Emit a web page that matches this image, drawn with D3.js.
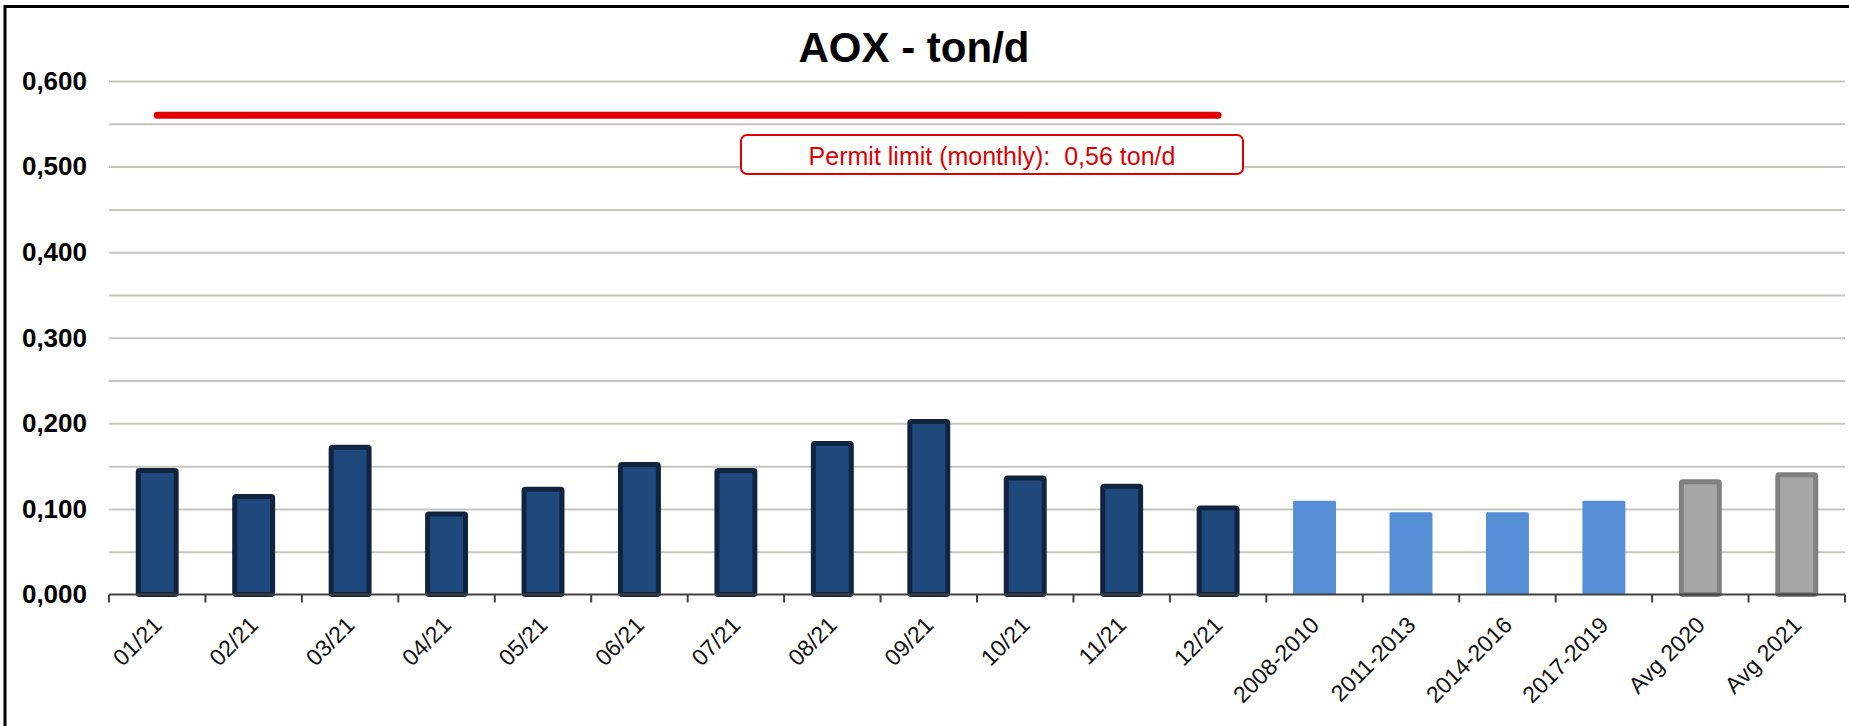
<!DOCTYPE html>
<html>
<head>
<meta charset="utf-8">
<script src="https://cdn.jsdelivr.net/npm/d3@7"></script>
<style>
  body { margin: 0; background: #fff; }
  text { font-family: "Liberation Sans", Arial, sans-serif; }
</style>
</head>
<body>
<svg id="chart" width="1849" height="726"></svg>
<script>
// categories and values
const categories = ["01/21", "02/21", "03/21", "04/21", "05/21", "06/21", "07/21", "08/21", "09/21", "10/21", "11/21", "12/21",
    "2008-2010", "2011-2013", "2014-2016", "2017-2019", "Avg 2020", "Avg 2021"];
const values = [0.145, 0.1145, 0.172, 0.094, 0.123, 0.152, 0.145, 0.1765, 0.202, 0.136, 0.1265, 0.101,
    0.1096, 0.096, 0.096, 0.1096, 0.1317, 0.140];
const groups = ["month", "month", "month", "month", "month", "month", "month", "month", "month", "month", "month", "month",
    "period", "period", "period", "period", "avg", "avg"];
const permitMonths = ["01/21", "02/21", "03/21", "04/21", "05/21", "06/21", "07/21", "08/21", "09/21", "10/21", "11/21", "12/21"];
const permitLimit = 0.56;
const yTicks = [0, 0.1, 0.2, 0.3, 0.4, 0.5, 0.6];
const gridTicks = [0.05, 0.1, 0.15, 0.2, 0.25, 0.3, 0.35, 0.4, 0.45, 0.5, 0.55, 0.6];
const title = "AOX - ton/d";
const permitLabel = "Permit limit (monthly):  0,56 ton/d";

const fills = { month: "#1f497d", period: "#558ed5", avg: "#a6a6a6" };
const strokes = { month: "#10243f", period: "none", avg: "#808080" };

let margin = { top: 81, left: 109 },
    width = 1845 - margin.left,
    height = 594.5 - margin.top;

let svg = d3.select("#chart");

// outer frame (cut by the picture edge on right and bottom)
svg.append("rect")
    .attr("x", 5).attr("y", 6.5)
    .attr("width", 1900).attr("height", 800)
    .attr("fill", "none")
    .attr("stroke", "#000")
    .attr("stroke-width", 3);

let chart = svg.append("g")
    .attr("transform", "translate(" + margin.left + "," + margin.top + ")");

let xScale = d3.scaleBand()
    .domain(categories)
    .range([0, width])
    .paddingInner(0.555)
    .paddingOuter(0.2775);
let yScale = d3.scaleLinear()
    .domain([0, 0.6])
    .range([height, 0]);

// gridlines
chart.append("g")
    .attr("class", "grid")
    .call(d3.axisLeft(yScale).tickValues(gridTicks).tickSize(-width).tickFormat(""))
    .call(g => g.select(".domain").remove())
    .call(g => g.selectAll("line").attr("stroke", "#c6c6be").attr("stroke-width", 2));

// y labels
chart.append("g")
    .attr("class", "axis axis-y")
    .call(d3.axisLeft(yScale).tickValues(yTicks).tickSize(0).tickPadding(22)
        .tickFormat(d => d3.format(".3f")(d).replace(".", ",")))
    .call(g => g.select(".domain").remove())
    .call(g => g.selectAll("text")
        .attr("fill", "#000")
        .style("font-size", "26px")
        .style("font-weight", "bold"));

// bars
chart.selectAll("rect.bar")
    .data(categories)
    .join("rect")
    .attr("class", "bar")
    .attr("x", (d, i) => xScale(d) + (strokes[groups[i]] === "none" ? 0 : 2.5))
    .attr("y", (d, i) => yScale(values[i]))
    .attr("width", (d, i) => xScale.bandwidth() - (strokes[groups[i]] === "none" ? 0 : 5))
    .attr("height", (d, i) => height - yScale(values[i]))
    .attr("rx", 1.5)
    .attr("fill", (d, i) => fills[groups[i]])
    .attr("stroke", (d, i) => strokes[groups[i]])
    .attr("stroke-width", 5);

// x axis line with ticks on category boundaries
chart.append("line")
    .attr("x1", 0).attr("x2", width)
    .attr("y1", height).attr("y2", height)
    .attr("stroke", "#404040").attr("stroke-width", 2);
chart.selectAll("line.xtick")
    .data(categories.concat(["end"]))
    .join("line")
    .attr("class", "xtick")
    .attr("x1", (d, i) => i * xScale.step())
    .attr("x2", (d, i) => i * xScale.step())
    .attr("y1", height).attr("y2", height + 8)
    .attr("stroke", "#404040").attr("stroke-width", 2);

// rotated category labels
chart.selectAll("text.xlabel")
    .data(categories)
    .join("text")
    .attr("class", "xlabel")
    .attr("transform", d => "translate(" + (xScale(d) + xScale.bandwidth() / 2 + 6) + "," + (height + 32) + ") rotate(-45)")
    .attr("text-anchor", "end")
    .style("font-size", "23px")
    .attr("fill", "#111")
    .text(d => d);

// permit limit line
let limitLine = d3.line()
    .x(d => xScale(d) + xScale.bandwidth() / 2)
    .y(() => yScale(permitLimit));
chart.append("path")
    .datum(permitMonths)
    .attr("d", limitLine)
    .attr("fill", "none")
    .attr("stroke", "#e00000")
    .attr("stroke-width", 7)
    .attr("stroke-linecap", "round");

// permit limit label box
svg.append("rect")
    .attr("x", 741).attr("y", 135)
    .attr("width", 502).attr("height", 39)
    .attr("rx", 6)
    .attr("fill", "#fff")
    .attr("stroke", "#e00000")
    .attr("stroke-width", 2);
svg.append("text")
    .attr("x", 992).attr("y", 165)
    .attr("text-anchor", "middle")
    .style("font-size", "25px")
    .style("white-space", "pre")
    .attr("fill", "#e00000")
    .text(permitLabel);

// title
svg.append("text")
    .attr("x", 914).attr("y", 62)
    .attr("text-anchor", "middle")
    .style("font-size", "42px")
    .style("font-weight", "bold")
    .attr("fill", "#000")
    .text(title);
</script>
</body>
</html>
